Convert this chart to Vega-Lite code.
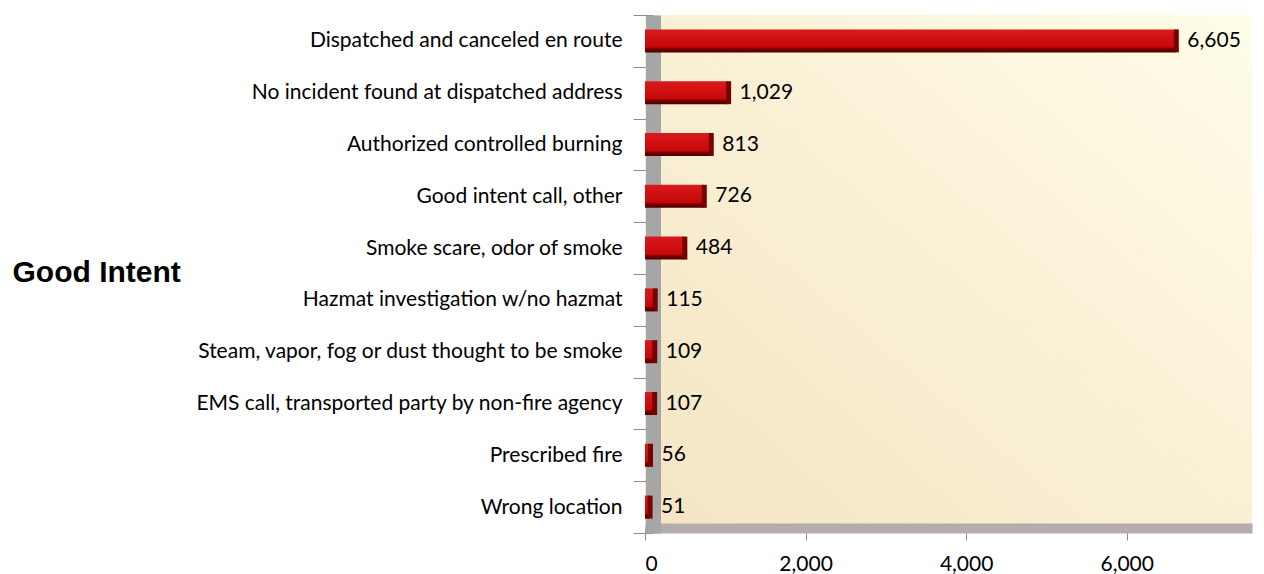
{
  "$schema": "https://vega.github.io/schema/vega-lite/v6.json",
  "width": 607,
  "height": 518,
  "autosize": "none",
  "padding": {"left": 645, "top": 15, "right": 12, "bottom": 41},
  "background": "white",
  "config": {
    "view": {
      "stroke": null,
      "fill": {"gradient": "linear", "x1": 1, "y1": 0, "x2": 0, "y2": 1,
        "stops": [{"offset": 0, "color": "#fffde8"}, {"offset": 0.5, "color": "#f9f0d4"}, {"offset": 1, "color": "#f4e5c4"}]}
    },
    "font": "Lato"
  },
  "data": {
    "values": [
      {"type": "Dispatched and canceled en route", "count": 6605},
      {"type": "No incident found at dispatched address", "count": 1029},
      {"type": "Authorized controlled burning", "count": 813},
      {"type": "Good intent call, other", "count": 726},
      {"type": "Smoke scare, odor of smoke", "count": 484},
      {"type": "Hazmat investigation w/no hazmat", "count": 115},
      {"type": "Steam, vapor, fog or dust thought to be smoke", "count": 109},
      {"type": "EMS call, transported party by non-fire agency", "count": 107},
      {"type": "Prescribed fire", "count": 56},
      {"type": "Wrong location", "count": 51}
    ]
  },
  "encoding": {
    "y": {
      "field": "type", "type": "nominal", "sort": null,
      "scale": {"paddingInner": 0, "paddingOuter": 0},
      "axis": {
        "title": "Good Intent",
        "titleAngle": 0, "titleAlign": "left", "titleBaseline": "alphabetic",
        "titleX": -641, "titleY": 266,
        "titleFont": "Liberation Sans", "titleFontSize": 30, "titleFontWeight": "bold", "titleColor": "#000000",
        "offset": -8,
        "domainColor": "#a6a6a6", "domainWidth": 15,
        "tickBand": "extent", "tickColor": "#8c8c8c", "tickSize": 20, "tickWidth": 1,
        "labelPadding": 11, "labelFont": "Lato", "labelFontSize": 21, "labelColor": "#000000",
        "labelLimit": 620
      }
    },
    "x": {
      "field": "count", "type": "quantitative",
      "scale": {"domain": [0, 7560], "nice": false},
      "axis": {
        "title": null,
        "values": [0, 2000, 4000, 6000],
        "format": ",.0f",
        "offset": -5,
        "domainColor": "#b5acac", "domainWidth": 10,
        "tickColor": "#8c8c8c", "tickSize": 12, "tickWidth": 1,
        "labelPadding": 13, "labelFont": "Lato", "labelFontSize": 21, "labelColor": "#000000",
        "grid": false
      }
    }
  },
  "layer": [
    {
      "mark": {"type": "bar", "size": 23,
        "color": {"gradient": "linear", "x1": 0, "y1": 0, "x2": 0, "y2": 1,
          "stops": [
            {"offset": 0, "color": "#d91a1a"},
            {"offset": 0.76, "color": "#c80808"},
            {"offset": 0.84, "color": "#7a0000"},
            {"offset": 1, "color": "#4a0000"}
          ]}
      }
    },
    {
      "mark": {"type": "tick", "orient": "vertical", "size": 23, "thickness": 5, "xOffset": 1, "color": "#7a0000", "opacity": 1}
    },
    {
      "mark": {"type": "text", "align": "left", "baseline": "middle", "dx": 12, "font": "Lato", "fontSize": 21, "color": "#000000"},
      "encoding": {"text": {"field": "count", "type": "quantitative", "format": ","}}
    }
  ]
}
